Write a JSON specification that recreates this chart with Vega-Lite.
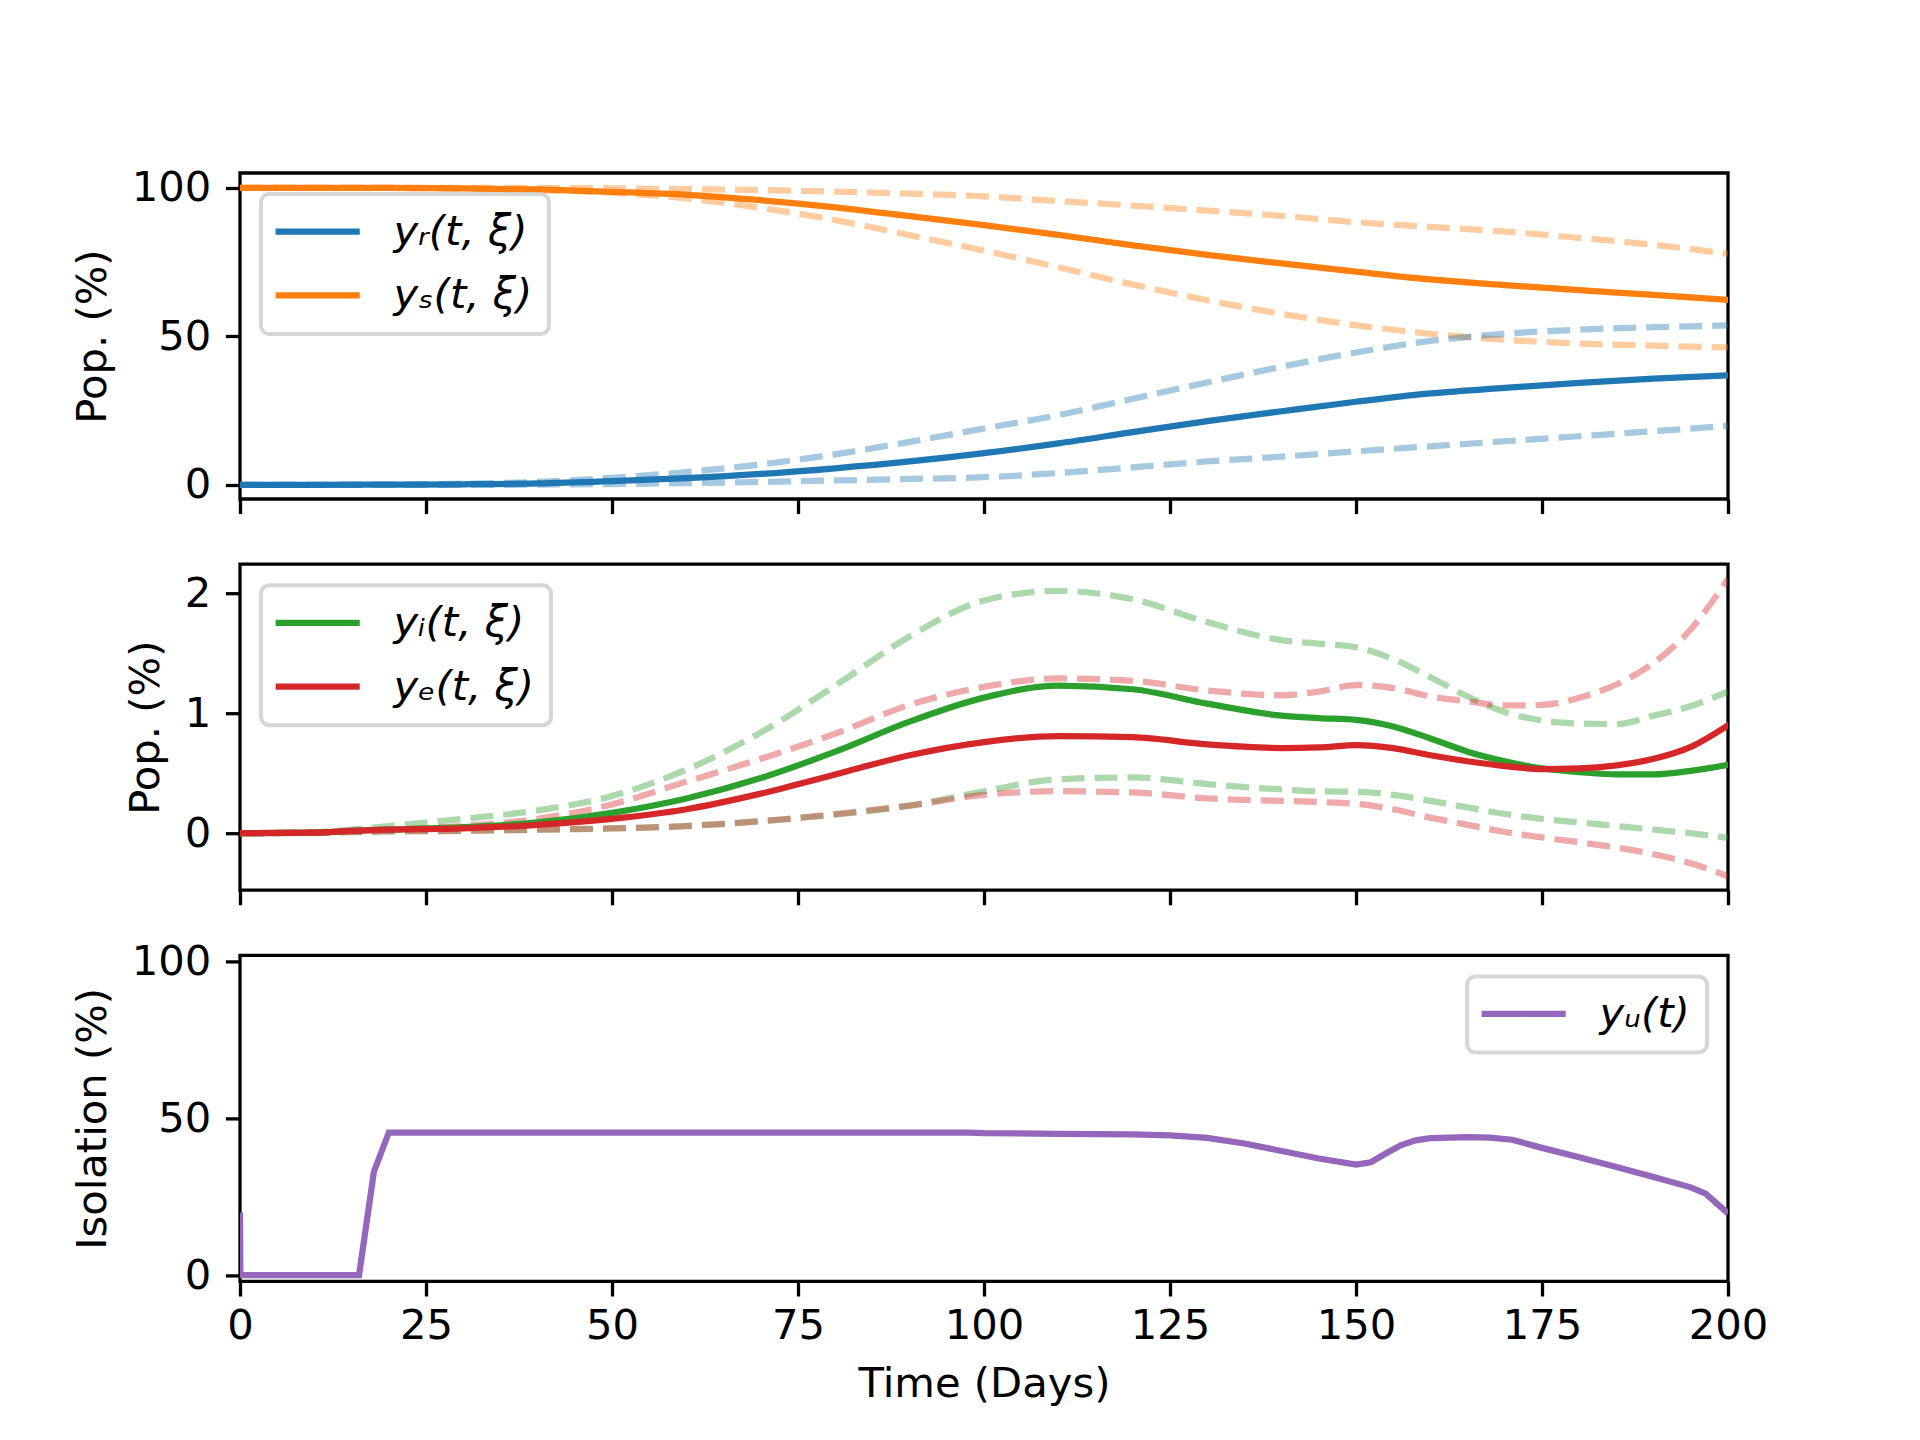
{
  "$schema": "https://vega.github.io/schema/vega-lite/v6.json",
  "background": "white",
  "padding": {"left": 70, "top": 166, "right": 20, "bottom": 5},
  "datasets": {
    "pop": [
      {"s": "s", "k": "m", "t": 0, "v": 100}, {"s": "s", "k": "m", "t": 10, "v": 100}, {"s": "s", "k": "m", "t": 20, "v": 100},
      {"s": "s", "k": "m", "t": 30, "v": 99.9}, {"s": "s", "k": "m", "t": 40, "v": 99.5}, {"s": "s", "k": "m", "t": 50, "v": 98.7},
      {"s": "s", "k": "m", "t": 60, "v": 97.7}, {"s": "s", "k": "m", "t": 70, "v": 95.9}, {"s": "s", "k": "m", "t": 80, "v": 93.5},
      {"s": "s", "k": "m", "t": 90, "v": 90.5}, {"s": "s", "k": "m", "t": 100, "v": 87.5}, {"s": "s", "k": "m", "t": 110, "v": 84.2},
      {"s": "s", "k": "m", "t": 120, "v": 80.7}, {"s": "s", "k": "m", "t": 130, "v": 77.5}, {"s": "s", "k": "m", "t": 140, "v": 74.6},
      {"s": "s", "k": "m", "t": 150, "v": 71.8}, {"s": "s", "k": "m", "t": 160, "v": 69.2}, {"s": "s", "k": "m", "t": 170, "v": 67.3},
      {"s": "s", "k": "m", "t": 180, "v": 65.6}, {"s": "s", "k": "m", "t": 190, "v": 64.0}, {"s": "s", "k": "m", "t": 200, "v": 62.3},
      {"s": "s", "k": "u", "t": 0, "v": 100}, {"s": "s", "k": "u", "t": 10, "v": 100}, {"s": "s", "k": "u", "t": 20, "v": 100},
      {"s": "s", "k": "u", "t": 30, "v": 100}, {"s": "s", "k": "u", "t": 40, "v": 100}, {"s": "s", "k": "u", "t": 50, "v": 99.9},
      {"s": "s", "k": "u", "t": 60, "v": 99.6}, {"s": "s", "k": "u", "t": 70, "v": 99.3}, {"s": "s", "k": "u", "t": 80, "v": 98.8},
      {"s": "s", "k": "u", "t": 90, "v": 98.1}, {"s": "s", "k": "u", "t": 100, "v": 97.2}, {"s": "s", "k": "u", "t": 110, "v": 95.6},
      {"s": "s", "k": "u", "t": 120, "v": 94.1}, {"s": "s", "k": "u", "t": 130, "v": 92.4}, {"s": "s", "k": "u", "t": 140, "v": 90.6},
      {"s": "s", "k": "u", "t": 150, "v": 88.5}, {"s": "s", "k": "u", "t": 160, "v": 86.9}, {"s": "s", "k": "u", "t": 170, "v": 85.3},
      {"s": "s", "k": "u", "t": 180, "v": 83.2}, {"s": "s", "k": "u", "t": 190, "v": 80.9}, {"s": "s", "k": "u", "t": 200, "v": 77.8},
      {"s": "s", "k": "l", "t": 0, "v": 100}, {"s": "s", "k": "l", "t": 10, "v": 100}, {"s": "s", "k": "l", "t": 20, "v": 100},
      {"s": "s", "k": "l", "t": 30, "v": 99.8}, {"s": "s", "k": "l", "t": 40, "v": 99.3}, {"s": "s", "k": "l", "t": 50, "v": 98.4},
      {"s": "s", "k": "l", "t": 60, "v": 96.5}, {"s": "s", "k": "l", "t": 70, "v": 93.3}, {"s": "s", "k": "l", "t": 80, "v": 89.2},
      {"s": "s", "k": "l", "t": 90, "v": 84.1}, {"s": "s", "k": "l", "t": 100, "v": 78.9}, {"s": "s", "k": "l", "t": 110, "v": 73.3},
      {"s": "s", "k": "l", "t": 120, "v": 67.5}, {"s": "s", "k": "l", "t": 130, "v": 62.2}, {"s": "s", "k": "l", "t": 140, "v": 57.6},
      {"s": "s", "k": "l", "t": 150, "v": 53.8}, {"s": "s", "k": "l", "t": 160, "v": 50.9}, {"s": "s", "k": "l", "t": 170, "v": 48.9},
      {"s": "s", "k": "l", "t": 180, "v": 47.6}, {"s": "s", "k": "l", "t": 190, "v": 46.9}, {"s": "s", "k": "l", "t": 200, "v": 46.3},
      {"s": "r", "k": "m", "t": 0, "v": 0}, {"s": "r", "k": "m", "t": 10, "v": 0}, {"s": "r", "k": "m", "t": 20, "v": 0.1},
      {"s": "r", "k": "m", "t": 30, "v": 0.2}, {"s": "r", "k": "m", "t": 40, "v": 0.5}, {"s": "r", "k": "m", "t": 50, "v": 1.3},
      {"s": "r", "k": "m", "t": 60, "v": 2.3}, {"s": "r", "k": "m", "t": 70, "v": 3.7}, {"s": "r", "k": "m", "t": 80, "v": 5.6},
      {"s": "r", "k": "m", "t": 90, "v": 7.9}, {"s": "r", "k": "m", "t": 100, "v": 10.7}, {"s": "r", "k": "m", "t": 110, "v": 14.0},
      {"s": "r", "k": "m", "t": 120, "v": 17.8}, {"s": "r", "k": "m", "t": 130, "v": 21.5}, {"s": "r", "k": "m", "t": 140, "v": 24.8},
      {"s": "r", "k": "m", "t": 150, "v": 28.0}, {"s": "r", "k": "m", "t": 160, "v": 30.8}, {"s": "r", "k": "m", "t": 170, "v": 32.7},
      {"s": "r", "k": "m", "t": 180, "v": 34.4}, {"s": "r", "k": "m", "t": 190, "v": 35.8}, {"s": "r", "k": "m", "t": 200, "v": 36.9},
      {"s": "r", "k": "u", "t": 0, "v": 0}, {"s": "r", "k": "u", "t": 10, "v": 0}, {"s": "r", "k": "u", "t": 20, "v": 0.1},
      {"s": "r", "k": "u", "t": 30, "v": 0.4}, {"s": "r", "k": "u", "t": 40, "v": 1.0}, {"s": "r", "k": "u", "t": 50, "v": 2.4},
      {"s": "r", "k": "u", "t": 60, "v": 4.3}, {"s": "r", "k": "u", "t": 70, "v": 6.9}, {"s": "r", "k": "u", "t": 80, "v": 10.3},
      {"s": "r", "k": "u", "t": 90, "v": 14.5}, {"s": "r", "k": "u", "t": 100, "v": 19.0}, {"s": "r", "k": "u", "t": 110, "v": 23.5},
      {"s": "r", "k": "u", "t": 120, "v": 29.0}, {"s": "r", "k": "u", "t": 130, "v": 34.5}, {"s": "r", "k": "u", "t": 140, "v": 39.8},
      {"s": "r", "k": "u", "t": 150, "v": 44.6}, {"s": "r", "k": "u", "t": 160, "v": 48.5}, {"s": "r", "k": "u", "t": 170, "v": 50.9},
      {"s": "r", "k": "u", "t": 180, "v": 52.3}, {"s": "r", "k": "u", "t": 190, "v": 53.1}, {"s": "r", "k": "u", "t": 200, "v": 53.7},
      {"s": "r", "k": "l", "t": 0, "v": 0}, {"s": "r", "k": "l", "t": 10, "v": 0}, {"s": "r", "k": "l", "t": 20, "v": 0},
      {"s": "r", "k": "l", "t": 30, "v": 0}, {"s": "r", "k": "l", "t": 40, "v": 0.1}, {"s": "r", "k": "l", "t": 50, "v": 0.3},
      {"s": "r", "k": "l", "t": 60, "v": 0.6}, {"s": "r", "k": "l", "t": 70, "v": 1.0}, {"s": "r", "k": "l", "t": 80, "v": 1.5},
      {"s": "r", "k": "l", "t": 90, "v": 2.0}, {"s": "r", "k": "l", "t": 100, "v": 2.6}, {"s": "r", "k": "l", "t": 110, "v": 4.0},
      {"s": "r", "k": "l", "t": 120, "v": 5.9}, {"s": "r", "k": "l", "t": 130, "v": 7.9}, {"s": "r", "k": "l", "t": 140, "v": 9.5},
      {"s": "r", "k": "l", "t": 150, "v": 11.3}, {"s": "r", "k": "l", "t": 160, "v": 13.0}, {"s": "r", "k": "l", "t": 170, "v": 14.7},
      {"s": "r", "k": "l", "t": 180, "v": 16.4}, {"s": "r", "k": "l", "t": 190, "v": 18.1}, {"s": "r", "k": "l", "t": 200, "v": 19.9}
    ],
    "inf": [
      {"s": "i", "k": "u", "t": 0, "v": 0}, {"s": "i", "k": "u", "t": 10, "v": 0.01}, {"s": "i", "k": "u", "t": 15, "v": 0.03},
      {"s": "i", "k": "u", "t": 20, "v": 0.06}, {"s": "i", "k": "u", "t": 30, "v": 0.12}, {"s": "i", "k": "u", "t": 40, "v": 0.19},
      {"s": "i", "k": "u", "t": 50, "v": 0.31}, {"s": "i", "k": "u", "t": 60, "v": 0.53}, {"s": "i", "k": "u", "t": 70, "v": 0.84},
      {"s": "i", "k": "u", "t": 80, "v": 1.23}, {"s": "i", "k": "u", "t": 90, "v": 1.64}, {"s": "i", "k": "u", "t": 100, "v": 1.94},
      {"s": "i", "k": "u", "t": 110, "v": 2.02}, {"s": "i", "k": "u", "t": 120, "v": 1.95}, {"s": "i", "k": "u", "t": 130, "v": 1.76},
      {"s": "i", "k": "u", "t": 140, "v": 1.61}, {"s": "i", "k": "u", "t": 145, "v": 1.58}, {"s": "i", "k": "u", "t": 150, "v": 1.55},
      {"s": "i", "k": "u", "t": 155, "v": 1.45}, {"s": "i", "k": "u", "t": 160, "v": 1.30}, {"s": "i", "k": "u", "t": 165, "v": 1.14},
      {"s": "i", "k": "u", "t": 170, "v": 1.01}, {"s": "i", "k": "u", "t": 175, "v": 0.94}, {"s": "i", "k": "u", "t": 180, "v": 0.915},
      {"s": "i", "k": "u", "t": 185, "v": 0.91}, {"s": "i", "k": "u", "t": 190, "v": 0.98}, {"s": "i", "k": "u", "t": 195, "v": 1.06},
      {"s": "i", "k": "u", "t": 200, "v": 1.18},
      {"s": "i", "k": "m", "t": 0, "v": 0}, {"s": "i", "k": "m", "t": 10, "v": 0.005}, {"s": "i", "k": "m", "t": 15, "v": 0.02},
      {"s": "i", "k": "m", "t": 20, "v": 0.03}, {"s": "i", "k": "m", "t": 30, "v": 0.05}, {"s": "i", "k": "m", "t": 40, "v": 0.09},
      {"s": "i", "k": "m", "t": 50, "v": 0.17}, {"s": "i", "k": "m", "t": 60, "v": 0.29}, {"s": "i", "k": "m", "t": 70, "v": 0.46},
      {"s": "i", "k": "m", "t": 80, "v": 0.68}, {"s": "i", "k": "m", "t": 90, "v": 0.93}, {"s": "i", "k": "m", "t": 100, "v": 1.13},
      {"s": "i", "k": "m", "t": 110, "v": 1.23}, {"s": "i", "k": "m", "t": 120, "v": 1.20}, {"s": "i", "k": "m", "t": 130, "v": 1.08},
      {"s": "i", "k": "m", "t": 140, "v": 0.98}, {"s": "i", "k": "m", "t": 145, "v": 0.96}, {"s": "i", "k": "m", "t": 150, "v": 0.945},
      {"s": "i", "k": "m", "t": 155, "v": 0.89}, {"s": "i", "k": "m", "t": 160, "v": 0.79}, {"s": "i", "k": "m", "t": 165, "v": 0.68},
      {"s": "i", "k": "m", "t": 170, "v": 0.60}, {"s": "i", "k": "m", "t": 175, "v": 0.54}, {"s": "i", "k": "m", "t": 180, "v": 0.51},
      {"s": "i", "k": "m", "t": 185, "v": 0.49}, {"s": "i", "k": "m", "t": 190, "v": 0.49}, {"s": "i", "k": "m", "t": 195, "v": 0.52},
      {"s": "i", "k": "m", "t": 200, "v": 0.57},
      {"s": "i", "k": "l", "t": 0, "v": 0}, {"s": "i", "k": "l", "t": 10, "v": 0.005}, {"s": "i", "k": "l", "t": 15, "v": 0.01},
      {"s": "i", "k": "l", "t": 20, "v": 0.015}, {"s": "i", "k": "l", "t": 30, "v": 0.02}, {"s": "i", "k": "l", "t": 40, "v": 0.03},
      {"s": "i", "k": "l", "t": 50, "v": 0.04}, {"s": "i", "k": "l", "t": 60, "v": 0.06}, {"s": "i", "k": "l", "t": 70, "v": 0.10},
      {"s": "i", "k": "l", "t": 80, "v": 0.155}, {"s": "i", "k": "l", "t": 90, "v": 0.23}, {"s": "i", "k": "l", "t": 100, "v": 0.35},
      {"s": "i", "k": "l", "t": 110, "v": 0.45}, {"s": "i", "k": "l", "t": 120, "v": 0.465}, {"s": "i", "k": "l", "t": 130, "v": 0.41},
      {"s": "i", "k": "l", "t": 140, "v": 0.365}, {"s": "i", "k": "l", "t": 145, "v": 0.35}, {"s": "i", "k": "l", "t": 150, "v": 0.345},
      {"s": "i", "k": "l", "t": 155, "v": 0.32}, {"s": "i", "k": "l", "t": 160, "v": 0.27}, {"s": "i", "k": "l", "t": 165, "v": 0.215},
      {"s": "i", "k": "l", "t": 170, "v": 0.16}, {"s": "i", "k": "l", "t": 175, "v": 0.12}, {"s": "i", "k": "l", "t": 180, "v": 0.09},
      {"s": "i", "k": "l", "t": 185, "v": 0.06}, {"s": "i", "k": "l", "t": 190, "v": 0.03}, {"s": "i", "k": "l", "t": 195, "v": 0.0},
      {"s": "i", "k": "l", "t": 200, "v": -0.04},
      {"s": "e", "k": "u", "t": 0, "v": 0}, {"s": "e", "k": "u", "t": 10, "v": 0.005}, {"s": "e", "k": "u", "t": 15, "v": 0.02},
      {"s": "e", "k": "u", "t": 20, "v": 0.03}, {"s": "e", "k": "u", "t": 30, "v": 0.06}, {"s": "e", "k": "u", "t": 40, "v": 0.12},
      {"s": "e", "k": "u", "t": 50, "v": 0.24}, {"s": "e", "k": "u", "t": 60, "v": 0.43}, {"s": "e", "k": "u", "t": 70, "v": 0.62},
      {"s": "e", "k": "u", "t": 80, "v": 0.83}, {"s": "e", "k": "u", "t": 90, "v": 1.07}, {"s": "e", "k": "u", "t": 100, "v": 1.22},
      {"s": "e", "k": "u", "t": 110, "v": 1.29}, {"s": "e", "k": "u", "t": 120, "v": 1.27}, {"s": "e", "k": "u", "t": 130, "v": 1.19},
      {"s": "e", "k": "u", "t": 140, "v": 1.15}, {"s": "e", "k": "u", "t": 145, "v": 1.18}, {"s": "e", "k": "u", "t": 150, "v": 1.235},
      {"s": "e", "k": "u", "t": 155, "v": 1.21}, {"s": "e", "k": "u", "t": 160, "v": 1.14}, {"s": "e", "k": "u", "t": 165, "v": 1.10},
      {"s": "e", "k": "u", "t": 170, "v": 1.065}, {"s": "e", "k": "u", "t": 175, "v": 1.07}, {"s": "e", "k": "u", "t": 180, "v": 1.13},
      {"s": "e", "k": "u", "t": 185, "v": 1.24}, {"s": "e", "k": "u", "t": 190, "v": 1.42}, {"s": "e", "k": "u", "t": 195, "v": 1.70},
      {"s": "e", "k": "u", "t": 200, "v": 2.12},
      {"s": "e", "k": "m", "t": 0, "v": 0}, {"s": "e", "k": "m", "t": 10, "v": 0.005}, {"s": "e", "k": "m", "t": 15, "v": 0.02},
      {"s": "e", "k": "m", "t": 20, "v": 0.03}, {"s": "e", "k": "m", "t": 30, "v": 0.04}, {"s": "e", "k": "m", "t": 40, "v": 0.07},
      {"s": "e", "k": "m", "t": 50, "v": 0.12}, {"s": "e", "k": "m", "t": 60, "v": 0.20}, {"s": "e", "k": "m", "t": 70, "v": 0.33},
      {"s": "e", "k": "m", "t": 80, "v": 0.49}, {"s": "e", "k": "m", "t": 90, "v": 0.65}, {"s": "e", "k": "m", "t": 100, "v": 0.76},
      {"s": "e", "k": "m", "t": 110, "v": 0.81}, {"s": "e", "k": "m", "t": 120, "v": 0.80}, {"s": "e", "k": "m", "t": 130, "v": 0.74},
      {"s": "e", "k": "m", "t": 140, "v": 0.71}, {"s": "e", "k": "m", "t": 145, "v": 0.715}, {"s": "e", "k": "m", "t": 150, "v": 0.735},
      {"s": "e", "k": "m", "t": 155, "v": 0.71}, {"s": "e", "k": "m", "t": 160, "v": 0.65}, {"s": "e", "k": "m", "t": 165, "v": 0.60},
      {"s": "e", "k": "m", "t": 170, "v": 0.56}, {"s": "e", "k": "m", "t": 175, "v": 0.535}, {"s": "e", "k": "m", "t": 180, "v": 0.54},
      {"s": "e", "k": "m", "t": 185, "v": 0.565}, {"s": "e", "k": "m", "t": 190, "v": 0.62}, {"s": "e", "k": "m", "t": 195, "v": 0.72},
      {"s": "e", "k": "m", "t": 200, "v": 0.90},
      {"s": "e", "k": "l", "t": 0, "v": 0}, {"s": "e", "k": "l", "t": 10, "v": 0.005}, {"s": "e", "k": "l", "t": 15, "v": 0.01},
      {"s": "e", "k": "l", "t": 20, "v": 0.015}, {"s": "e", "k": "l", "t": 30, "v": 0.02}, {"s": "e", "k": "l", "t": 40, "v": 0.03},
      {"s": "e", "k": "l", "t": 50, "v": 0.04}, {"s": "e", "k": "l", "t": 60, "v": 0.06}, {"s": "e", "k": "l", "t": 70, "v": 0.10},
      {"s": "e", "k": "l", "t": 80, "v": 0.16}, {"s": "e", "k": "l", "t": 90, "v": 0.23}, {"s": "e", "k": "l", "t": 100, "v": 0.32},
      {"s": "e", "k": "l", "t": 110, "v": 0.35}, {"s": "e", "k": "l", "t": 120, "v": 0.34}, {"s": "e", "k": "l", "t": 130, "v": 0.29},
      {"s": "e", "k": "l", "t": 140, "v": 0.27}, {"s": "e", "k": "l", "t": 145, "v": 0.26}, {"s": "e", "k": "l", "t": 150, "v": 0.245},
      {"s": "e", "k": "l", "t": 155, "v": 0.20}, {"s": "e", "k": "l", "t": 160, "v": 0.13}, {"s": "e", "k": "l", "t": 165, "v": 0.07},
      {"s": "e", "k": "l", "t": 170, "v": 0.01}, {"s": "e", "k": "l", "t": 175, "v": -0.035}, {"s": "e", "k": "l", "t": 180, "v": -0.075},
      {"s": "e", "k": "l", "t": 185, "v": -0.12}, {"s": "e", "k": "l", "t": 190, "v": -0.175}, {"s": "e", "k": "l", "t": 195, "v": -0.25},
      {"s": "e", "k": "l", "t": 200, "v": -0.36}
    ],
    "iso": [
      {"s": "u", "t": 0, "v": 20}, {"s": "u", "t": 0.05, "v": 0}, {"s": "u", "t": 16, "v": 0}, {"s": "u", "t": 18, "v": 33},
      {"s": "u", "t": 20, "v": 45.5}, {"s": "u", "t": 40, "v": 45.5}, {"s": "u", "t": 60, "v": 45.5}, {"s": "u", "t": 80, "v": 45.5},
      {"s": "u", "t": 98, "v": 45.5}, {"s": "u", "t": 100, "v": 45.3}, {"s": "u", "t": 110, "v": 45.1}, {"s": "u", "t": 120, "v": 44.9},
      {"s": "u", "t": 125, "v": 44.6}, {"s": "u", "t": 130, "v": 43.8}, {"s": "u", "t": 135, "v": 42.0}, {"s": "u", "t": 140, "v": 39.6},
      {"s": "u", "t": 145, "v": 37.2}, {"s": "u", "t": 150, "v": 35.3}, {"s": "u", "t": 152, "v": 36.0}, {"s": "u", "t": 154, "v": 38.8},
      {"s": "u", "t": 156, "v": 41.4}, {"s": "u", "t": 158, "v": 43.0}, {"s": "u", "t": 160, "v": 43.7}, {"s": "u", "t": 165, "v": 44.0},
      {"s": "u", "t": 168, "v": 43.9}, {"s": "u", "t": 171, "v": 43.2}, {"s": "u", "t": 175, "v": 40.6}, {"s": "u", "t": 180, "v": 37.6},
      {"s": "u", "t": 185, "v": 34.5}, {"s": "u", "t": 190, "v": 31.3}, {"s": "u", "t": 195, "v": 28.0}, {"s": "u", "t": 197, "v": 26.0},
      {"s": "u", "t": 200, "v": 19.7}
    ]
  },
  "spacing": 65.2,
  "bounds": "flush",
  "vconcat": [
    {
      "width": 1488,
      "height": 326,
      "data": {"name": "pop"},
      "encoding": {
        "x": {
          "field": "t", "type": "quantitative",
          "scale": {"domain": [0, 200], "nice": false, "zero": false},
          "axis": {"values": [0, 25, 50, 75, 100, 125, 150, 175, 200], "labels": false, "title": null}
        },
        "y": {
          "field": "v", "type": "quantitative",
          "scale": {"domain": [-4.75, 105.05], "nice": false, "zero": false},
          "axis": {"values": [0, 50, 100], "title": "Pop. (%)"}
        },
        "color": {
          "field": "s", "type": "nominal",
          "scale": {"domain": ["r", "s"], "range": ["#1f77b4", "#ff7f0e"]},
          "legend": {"title": null, "orient": "top-left", "labelExpr": "{'r': 'yᵣ(t, ξ)', 's': 'yₛ(t, ξ)'}[datum.label]"}
        }
      },
      "layer": [
        {
          "transform": [{"filter": "datum.k != 'm'"}],
          "mark": {"type": "line", "strokeWidth": 6.25, "opacity": 0.4, "strokeDash": [23, 10], "strokeCap": "butt", "interpolate": "monotone", "clip": true},
          "encoding": {"detail": {"field": "k"}}
        },
        {
          "transform": [{"filter": "datum.k == 'm'"}],
          "mark": {"type": "line", "strokeWidth": 6.25, "strokeCap": "square", "interpolate": "monotone", "clip": true}
        }
      ]
    },
    {
      "width": 1488,
      "height": 326,
      "data": {"name": "inf"},
      "encoding": {
        "x": {
          "field": "t", "type": "quantitative",
          "scale": {"domain": [0, 200], "nice": false, "zero": false},
          "axis": {"values": [0, 25, 50, 75, 100, 125, 150, 175, 200], "labels": false, "title": null}
        },
        "y": {
          "field": "v", "type": "quantitative",
          "scale": {"domain": [-0.475, 2.2425], "nice": false, "zero": false},
          "axis": {"values": [0, 1, 2], "title": "Pop.  (%)"}
        },
        "color": {
          "field": "s", "type": "nominal",
          "scale": {"domain": ["i", "e"], "range": ["#2ca02c", "#d62728"]},
          "legend": {"title": null, "orient": "top-left", "labelExpr": "{'i': 'yᵢ(t, ξ)', 'e': 'yₑ(t, ξ)'}[datum.label]"}
        }
      },
      "layer": [
        {
          "transform": [{"filter": "datum.k != 'm'"}],
          "mark": {"type": "line", "strokeWidth": 6.25, "opacity": 0.4, "strokeDash": [23, 10], "strokeCap": "butt", "interpolate": "monotone", "clip": true},
          "encoding": {"detail": {"field": "k"}}
        },
        {
          "transform": [{"filter": "datum.k == 'm'"}],
          "mark": {"type": "line", "strokeWidth": 6.25, "strokeCap": "square", "interpolate": "monotone", "clip": true}
        }
      ]
    },
    {
      "width": 1488,
      "height": 326,
      "data": {"name": "iso"},
      "mark": {"type": "line", "strokeWidth": 6.25, "clip": true},
      "encoding": {
        "x": {
          "field": "t", "type": "quantitative",
          "scale": {"domain": [0, 200], "nice": false, "zero": false},
          "axis": {"values": [0, 25, 50, 75, 100, 125, 150, 175, 200], "title": "Time (Days)", "labelPadding": 9}
        },
        "y": {
          "field": "v", "type": "quantitative",
          "scale": {"domain": [-2, 102], "nice": false, "zero": false},
          "axis": {"values": [0, 50, 100], "title": "Isolation (%)"}
        },
        "color": {
          "field": "s", "type": "nominal",
          "scale": {"domain": ["u"], "range": ["#9467bd"]},
          "legend": {"title": null, "orient": "top-right", "labelExpr": "{'u': 'yᵤ(t)'}[datum.label]"}
        }
      }
    }
  ],
  "resolve": {
    "scale": {"color": "independent", "x": "independent", "y": "independent"},
    "legend": {"color": "independent"}
  },
  "config": {
    "font": "DejaVu Sans",
    "view": {"stroke": "black", "strokeWidth": 3.3},
    "axis": {
      "domain": false,
      "grid": false,
      "ticks": true,
      "tickColor": "black",
      "tickWidth": 3.3,
      "tickSize": 14.6,
      "labelFont": "DejaVu Sans",
      "labelFontSize": 41.7,
      "labelColor": "black",
      "labelPadding": 14.6,
      "labelFlush": false,
      "labelOverlap": false,
      "titleFont": "DejaVu Sans",
      "titleFontSize": 41.7,
      "titleFontWeight": "normal",
      "titleColor": "black",
      "titlePadding": 16.7
    },
    "legend": {
      "labelFont": "DejaVu Sans",
      "labelFontSize": 41.7,
      "labelFontStyle": "italic",
      "labelColor": "black",
      "labelLimit": 600,
      "symbolType": "M-1.35,0H3.6",
      "symbolSize": 1156,
      "symbolStrokeWidth": 6.25,
      "symbolOpacity": 1,
      "symbolDash": [1, 0],
      "labelOffset": 74,
      "rowPadding": 20.8,
      "padding": 16.7,
      "offset": 20.8,
      "fillColor": "rgba(255,255,255,0.8)",
      "strokeColor": "rgba(204,204,204,0.8)",
      "strokeWidth": 4,
      "cornerRadius": 8.3
    }
  }
}
